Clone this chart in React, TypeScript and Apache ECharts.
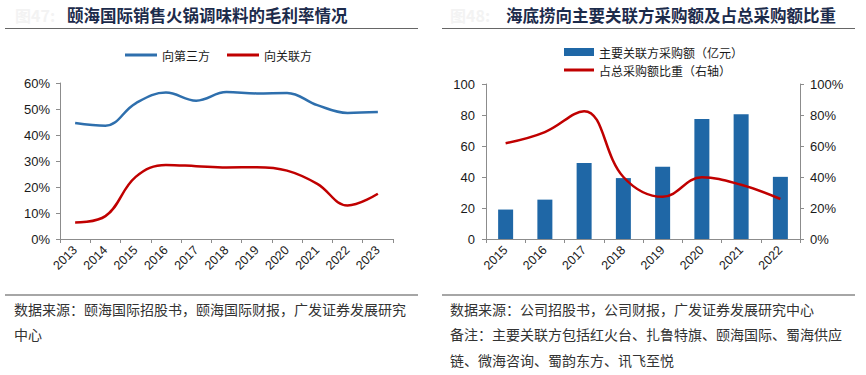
import React, { useEffect, useRef } from "react";
import * as echarts from "echarts";

const yearsL = ["2013", "2014", "2015", "2016", "2017", "2018", "2019", "2020", "2021", "2022", "2023"];
const thirdParty = [44.6, 43.6, 52.2, 56.3, 53.2, 56.5, 56.0, 56.2, 51.5, 48.5, 48.8];
const related = [6.3, 8.8, 23.9, 28.5, 28.0, 27.5, 27.6, 26.3, 21.2, 12.9, 17.4];

const yearsR = ["2015", "2016", "2017", "2018", "2019", "2020", "2021", "2022"];
const purchase = [19, 25.4, 49.1, 39.3, 46.6, 77.4, 80.5, 40.1];
const share = [61.8, 69.0, 82.5, 40.0, 27.2, 39.8, 35.0, 25.8];

const FONT = "'Liberation Sans', Arial, sans-serif";
const CJK = "'Noto Sans CJK SC', sans-serif";
const AXIS = "#8c8c8c";
const TXT = "#1a1a1a";
const BLUE = "#2e6fad";
const BAR = "#1f67a6";
const RED = "#c00000";

export default function App() {
  const ref = useRef<HTMLDivElement>(null);
  useEffect(() => {
    const chart = echarts.init(ref.current!, null, { renderer: "svg" });
    const axisLine = { show: true, lineStyle: { color: AXIS, width: 1 } };
    const axisTick = { show: true, length: 4, lineStyle: { color: AXIS } };
    const note = (x: number, y: number, text: string) => ({
      type: "text",
      x,
      y,
      style: { text, fill: "#333", font: `14px ${CJK}`, textVerticalAlign: "middle" },
    });
    chart.setOption({
      animation: false,
      backgroundColor: "#fff",
      textStyle: { fontFamily: FONT },
      grid: [
        { left: 60, top: 83, width: 333, height: 156 },
        { left: 486, top: 84, width: 314, height: 155 },
      ],
      legend: [
        {
          left: 120,
          top: 44,
          itemWidth: 32,
          itemHeight: 3,
          itemGap: 17,
          icon: "rect",
          data: ["向第三方", "向关联方"],
          textStyle: { fontFamily: CJK, fontSize: 12, color: TXT },
        },
        {
          left: 559,
          top: 41,
          orient: "vertical",
          itemWidth: 30,
          itemGap: 6,
          data: [
            { name: "主要关联方采购额（亿元）", icon: "rect", itemStyle: { color: BAR } },
            { name: "占总采购额比重（右轴）", icon: "path://M0,0 L30,0 L30,3 L0,3 Z" },
          ],
          itemHeight: 8,
          textStyle: { fontFamily: CJK, fontSize: 12, color: TXT },
        },
      ],
      xAxis: [
        {
          type: "category",
          gridIndex: 0,
          data: yearsL,
          axisLine,
          axisTick,
          axisLabel: { rotate: 45, fontSize: 12.5, color: TXT, margin: 9, fontFamily: FONT },
        },
        {
          type: "category",
          gridIndex: 1,
          data: yearsR,
          axisLine,
          axisTick,
          axisLabel: { rotate: 45, fontSize: 12.5, color: TXT, margin: 9, fontFamily: FONT },
        },
      ],
      yAxis: [
        {
          type: "value",
          gridIndex: 0,
          min: 0,
          max: 60,
          interval: 10,
          axisLine,
          axisTick,
          splitLine: { show: false },
          axisLabel: { formatter: "{value}%", fontSize: 13, color: TXT, margin: 10, fontFamily: FONT },
        },
        {
          type: "value",
          gridIndex: 1,
          min: 0,
          max: 100,
          interval: 20,
          axisLine,
          axisTick,
          splitLine: { show: false },
          axisLabel: { fontSize: 13, color: TXT, margin: 11, fontFamily: FONT },
        },
        {
          type: "value",
          gridIndex: 1,
          position: "right",
          min: 0,
          max: 100,
          interval: 20,
          axisLine,
          axisTick,
          splitLine: { show: false },
          axisLabel: { formatter: "{value}%", fontSize: 13, color: TXT, margin: 10, fontFamily: FONT },
        },
      ],
      series: [
        {
          name: "向第三方",
          type: "line",
          xAxisIndex: 0,
          yAxisIndex: 0,
          data: thirdParty,
          smooth: 0.4,
          showSymbol: false,
          itemStyle: { color: BLUE },
          lineStyle: { color: BLUE, width: 2.5 },
        },
        {
          name: "向关联方",
          type: "line",
          xAxisIndex: 0,
          yAxisIndex: 0,
          data: related,
          smooth: 0.4,
          showSymbol: false,
          itemStyle: { color: RED },
          lineStyle: { color: RED, width: 2.5 },
        },
        {
          name: "主要关联方采购额（亿元）",
          type: "bar",
          xAxisIndex: 1,
          yAxisIndex: 1,
          data: purchase,
          barWidth: 15,
          itemStyle: { color: BAR },
        },
        {
          name: "占总采购额比重（右轴）",
          type: "line",
          xAxisIndex: 1,
          yAxisIndex: 2,
          data: share,
          smooth: 0.4,
          showSymbol: false,
          itemStyle: { color: RED },
          lineStyle: { color: RED, width: 2.5 },
        },
      ],
      graphic: [
        { type: "text", x: 15, y: 15, style: { text: "图47:", fill: "#f3f3f3", font: `bold 16px ${CJK}`, textVerticalAlign: "middle" } },
        { type: "text", x: 67, y: 15, style: { text: "颐海国际销售火锅调味料的毛利率情况", fill: "#1c2b4b", font: `bold 16.5px ${CJK}`, textVerticalAlign: "middle" } },
        { type: "text", x: 450, y: 15, style: { text: "图48:", fill: "#f3f3f3", font: `bold 16px ${CJK}`, textVerticalAlign: "middle" } },
        { type: "text", x: 506, y: 15, style: { text: "海底捞向主要关联方采购额及占总采购额比重", fill: "#1c2b4b", font: `bold 16.5px ${CJK}`, textVerticalAlign: "middle" } },
        { type: "line", shape: { x1: 5, y1: 28.5, x2: 418, y2: 28.5 }, style: { stroke: "#666", lineWidth: 1.2 } },
        { type: "line", shape: { x1: 442, y1: 28.5, x2: 855, y2: 28.5 }, style: { stroke: "#666", lineWidth: 1.2 } },
        { type: "line", shape: { x1: 5, y1: 295, x2: 418, y2: 295 }, style: { stroke: "#888", lineWidth: 1.5 } },
        { type: "line", shape: { x1: 442, y1: 295, x2: 855, y2: 295 }, style: { stroke: "#888", lineWidth: 1.5 } },
        note(14, 309, "数据来源：颐海国际招股书，颐海国际财报，广发证券发展研究"),
        note(14, 334, "中心"),
        note(450, 309, "数据来源：公司招股书，公司财报，广发证券发展研究中心"),
        note(450, 334, "备注：主要关联方包括红火台、扎鲁特旗、颐海国际、蜀海供应"),
        note(450, 360, "链、微海咨询、蜀韵东方、讯飞至悦"),
      ],
    });
    return () => chart.dispose();
  }, []);
  return (
    <div
      ref={ref}
      style={{ position: "absolute", left: 0, top: 0, width: 866, height: 375, background: "#fff" }}
    />
  );
}
